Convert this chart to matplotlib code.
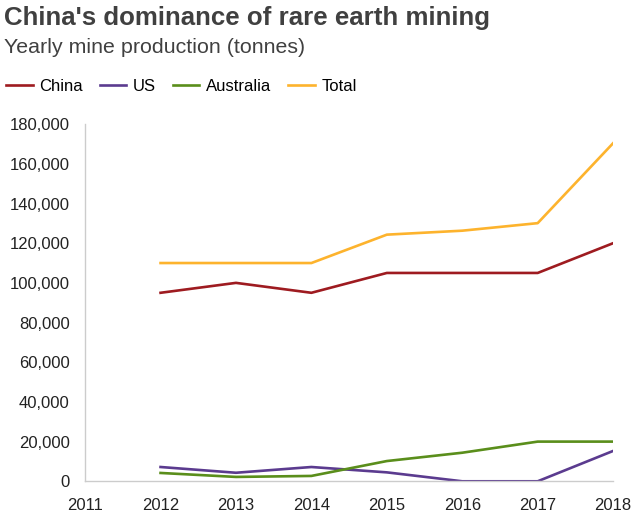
import matplotlib.pyplot as plt
from matplotlib.ticker import FuncFormatter

plt.rcParams['font.family'] = ['Liberation Sans', 'DejaVu Sans']

years = [2012, 2013, 2014, 2015, 2016, 2017, 2018]
china = [95000, 100000, 95000, 105000, 105000, 105000, 120000]
us = [7200, 4300, 7200, 4500, 0, 0, 15300]
australia = [4200, 2200, 2700, 10200, 14400, 20000, 20000]
total = [110000, 110000, 110000, 124300, 126300, 130100, 170400]

series = [("China", china, "#9e1b20"),
          ("US", us, "#5b3b8f"),
          ("Australia", australia, "#5a8e1b"),
          ("Total", total, "#fdb32d")]

fig = plt.figure(figsize=(6.4, 5.26), dpi=100)
ax = fig.add_axes([0.133, 0.085, 0.825, 0.679])

for name, vals, col in series:
    ax.plot(years, vals, color=col, lw=1.9, label=name)

ax.set_xlim(2011, 2018)
ax.set_ylim(0, 180000)
ax.set_xticks(range(2011, 2019))
ax.set_yticks(range(0, 180001, 20000))
ax.yaxis.set_major_formatter(FuncFormatter(lambda v, p: f"{int(v):,}"))
ax.tick_params(length=0, labelsize=12, labelcolor="#222222")
ax.tick_params(axis="x", pad=12)
ax.tick_params(axis="y", pad=11)
for s in ["top", "right"]:
    ax.spines[s].set_visible(False)
for s in ["left", "bottom"]:
    ax.spines[s].set_color("#cccccc")
    ax.spines[s].set_linewidth(1)

fig.text(0.006, 0.966, "China's dominance of rare earth mining", fontsize=18.6,
         fontweight="bold", color="#404040", va="center")
fig.text(0.006, 0.91, "Yearly mine production (tonnes)", fontsize=15.4,
         color="#404040", va="center")

fig.legend(loc="center left", bbox_to_anchor=(-0.014, 0.836), ncol=4, frameon=False,
           fontsize=12, handlelength=1.6, handletextpad=0.4, columnspacing=1.0)

fig.savefig("out.png", dpi=100)
